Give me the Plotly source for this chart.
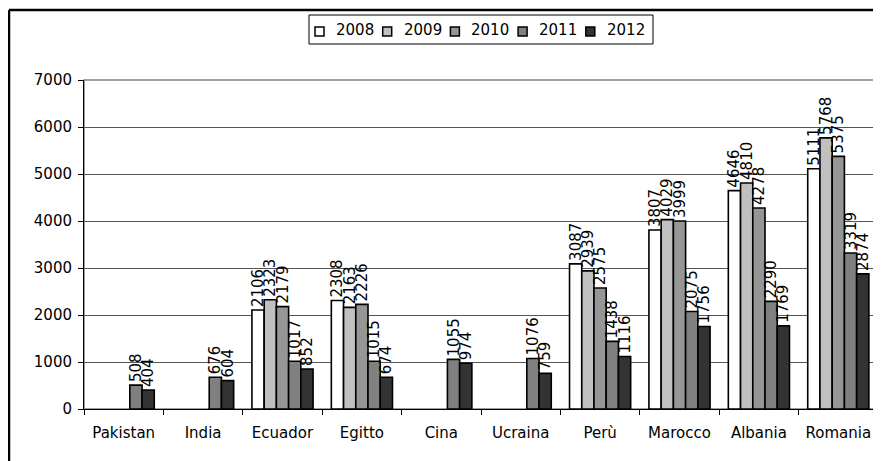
import plotly.graph_objects as go

countries = ["Pakistan", "India", "Ecuador", "Egitto", "Cina", "Ucraina", "Perù", "Marocco", "Albania", "Romania"]
years = ["2008", "2009", "2010", "2011", "2012"]
v2008 = [None, None, 2106, 2308, None, None, 3087, 3807, 4646, 5111]
v2009 = [None, None, 2323, 2163, None, None, 2939, 4029, 4810, 5768]
v2010 = [None, None, 2179, 2226, None, None, 2575, 3999, 4278, 5375]
v2011 = [508, 676, 1017, 1015, 1055, 1076, 1438, 2075, 2290, 3319]
v2012 = [404, 604, 852, 674, 974, 759, 1116, 1756, 1769, 2874]
series = [v2008, v2009, v2010, v2011, v2012]
colors = ["#FFFFFF", "#C0C0C0", "#969696", "#808080", "#333333"]

FONT = "DejaVu Sans"
FS = 15

fig = go.Figure()
for name, vals, col in zip(years, series, colors):
    fig.add_trace(go.Bar(
        name=name, x=countries, y=vals,
        marker=dict(color=col, line=dict(color="black", width=1.6)),
        text=[("" if v is None else str(v)) for v in vals],
        textposition="outside", textangle=-90, constraintext="none",
        cliponaxis=False, showlegend=False,
        textfont=dict(family=FONT, size=FS, color="black"),
    ))

# page has an 8px body margin; plot area in page coords: x 84..878, y 80..409
OFF = 8
PL, PR, PT, PB = 84, 878, 80, 409
W, H = 881 - OFF, 461 - OFF
L, T = PL - OFF, PT - OFF
R = W - (PR - OFF)
B = H - (PB - OFF)
pw, ph = PR - PL, PB - PT

def px(x):
    return (x - PL) / pw

def py(y):
    return (PB - y) / ph

shapes = [
    dict(type="rect", xref="paper", yref="paper", x0=0, x1=1, y0=0, y1=1,
         line=dict(color="#808080", width=1.5), layer="below"),
    dict(type="line", xref="paper", yref="paper", x0=px(9), x1=px(9), y0=py(10), y1=py(470),
         line=dict(color="black", width=2.5)),
    dict(type="line", xref="paper", yref="paper", x0=px(9), x1=px(890), y0=py(10), y1=py(10),
         line=dict(color="black", width=2.5)),
    # legend box
    dict(type="rect", xref="paper", yref="paper", x0=px(309), x1=px(653), y0=py(15), y1=py(44),
         line=dict(color="black", width=1), fillcolor="white"),
]
annotations = []
PITCH = 67.7
for i, (name, col) in enumerate(zip(years, colors)):
    sx = 315 + i * PITCH
    shapes.append(dict(type="rect", xref="paper", yref="paper",
                       x0=px(sx), x1=px(sx + 9), y0=py(27), y1=py(36),
                       line=dict(color="black", width=1.5), fillcolor=col))
    annotations.append(dict(xref="paper", yref="paper", x=px(sx + 19), y=py(30),
                            xanchor="left", yanchor="middle", showarrow=False,
                            text=name, font=dict(family=FONT, size=FS, color="black")))

fig.update_layout(
    width=W, height=H,
    margin=dict(l=L, r=R, t=T, b=B, pad=0),
    paper_bgcolor="white", plot_bgcolor="white",
    barmode="group", bargap=0.23, bargroupgap=0,
    font=dict(family=FONT, size=FS, color="black"),
    showlegend=False,
    xaxis=dict(showline=True, linecolor="black", linewidth=1, ticks="outside",
               tickson="boundaries", ticklen=5, tickcolor="black",
               showgrid=False, ticklabelstandoff=10),
    yaxis=dict(range=[0, 7000], dtick=1000, showline=True, linecolor="black", linewidth=1,
               ticks="outside", ticklen=5, tickcolor="black",
               showgrid=True, gridcolor="#555555", gridwidth=1, zeroline=False,
               ticklabelstandoff=3),
    shapes=shapes,
    annotations=annotations,
)

fig.write_html("out.html")
